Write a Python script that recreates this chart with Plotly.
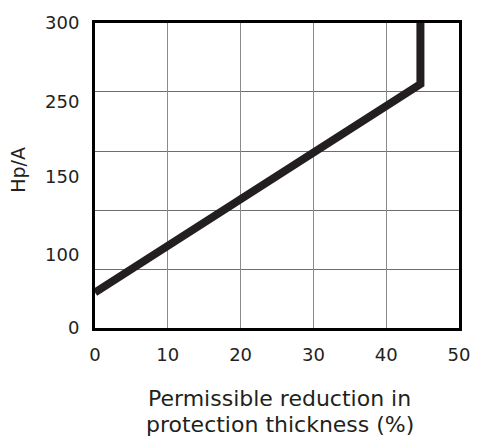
import plotly.graph_objects as go

# Curve: permissible reduction in protection thickness vs section factor
reduction_pct = [0, 44.7, 44.7]
hp_a = [35, 240, 300]

# Axis ticks and label text
x_ticks = [0, 10, 20, 30, 40, 50]
y_tick_pos = [0, 72, 149, 223, 300]
y_tick_text = ["0", "100", "150", "250", "300"]
y_grid_pos = [58, 116, 174, 233]

x_title_lines = ["Permissible reduction in", "protection thickness (%)"]
y_title = "Hp/A"

FONT = "DejaVu Sans, Liberation Sans, Arial, sans-serif"
INK = "#231f20"

fig = go.Figure()
fig.add_trace(go.Scatter(
    x=reduction_pct, y=hp_a, mode="lines",
    line=dict(color=INK, width=8),
    hoverinfo="skip", showlegend=False,
))

fig.update_xaxes(
    range=[0, 50], tickvals=x_ticks,
    showgrid=True, gridcolor="#8a8a8a", gridwidth=1,
    showline=True, linecolor="black", linewidth=3, mirror=True,
    ticks="outside", ticklen=8, tickcolor="rgba(0,0,0,0)",
    tickfont=dict(family=FONT, size=18, color=INK),
    zeroline=False,
)
fig.update_yaxes(
    range=[0, 300], tickvals=y_tick_pos, ticktext=y_tick_text,
    showgrid=False,
    minor=dict(tickvals=y_grid_pos, showgrid=True, gridcolor="#6e6e6e", gridwidth=1, ticks=""),
    showline=True, linecolor="black", linewidth=3, mirror=True,
    ticks="outside", ticklen=9, tickcolor="rgba(0,0,0,0)",
    tickfont=dict(family=FONT, size=18, color=INK),
    zeroline=False,
)

# two-line x-axis title, one annotation per line for tight spacing
for line_text, y_pos in zip(x_title_lines, [-0.2315, -0.315]):
    fig.add_annotation(
        text=line_text,
        xref="paper", yref="paper", x=0.508, y=y_pos,
        xanchor="center", yanchor="middle", showarrow=False,
        font=dict(family=FONT, size=22, color=INK),
    )
fig.add_annotation(
    text=y_title, textangle=-90,
    xref="paper", yref="paper", x=-0.212, y=0.518,
    xanchor="center", yanchor="middle", showarrow=False,
    font=dict(family=FONT, size=19, color=INK),
)

fig.update_layout(
    width=482, height=437,
    margin=dict(l=95, r=15, t=17, b=109),
    paper_bgcolor="white", plot_bgcolor="white",
)

fig.write_html("out.html")
